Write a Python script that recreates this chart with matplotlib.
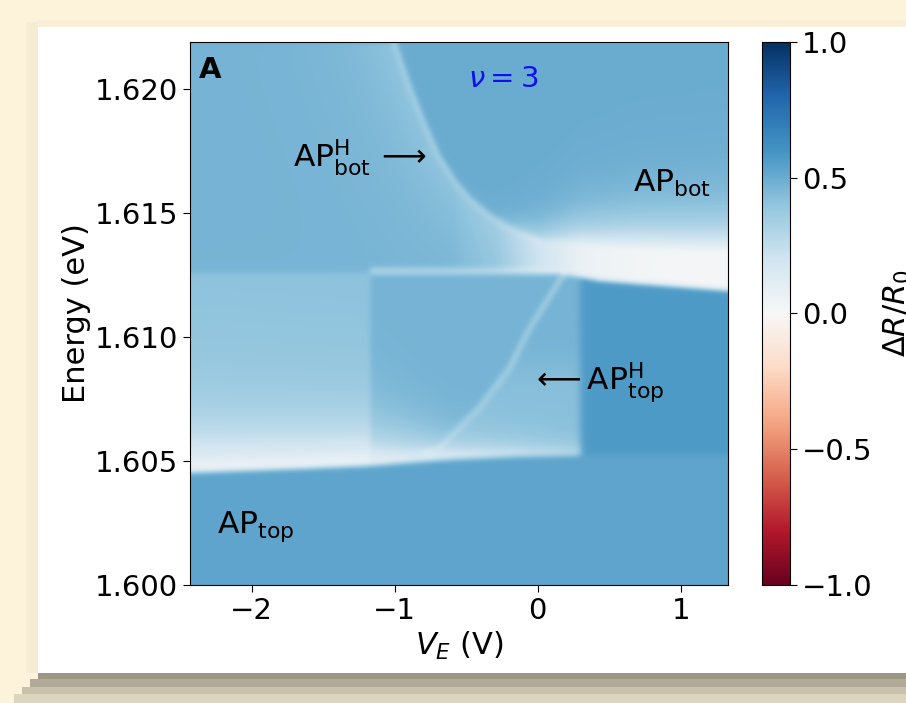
import numpy as np
import matplotlib.pyplot as plt
from matplotlib.patches import Rectangle

# axis ranges
v_lim = (-2.43, 1.33)
e_lim = (1.600, 1.6219)

# AP_bot^H curve / upper edge of the AP_bot band (V, E)
bot_h_v = [-1.00, -0.90, -0.79, -0.69, -0.58, -0.48, -0.34, -0.20, 0.01, 0.29, 0.71, 1.33]
bot_h_e = [1.6219, 1.6202, 1.6186, 1.6173, 1.6163, 1.6156, 1.6149, 1.6144, 1.6139, 1.6137, 1.6135, 1.6134]

# sharp lower edge of the AP_bot band (horizontal line)
bot_edge_v = [-1.17, 0.15, 0.43, 1.33]
bot_edge_e = [1.6126, 1.6126, 1.6123, 1.6119]

# brightness of the AP_bot band vs V
bot_amp_v = [-0.6, -0.3, 0.0, 0.3, 0.7, 1.33]
bot_amp = [0.0, 0.12, 0.50, 0.85, 0.95, 0.97]
bot_halo_w = [0.2, 0.3, 0.6, 0.9, 1.1, 1.2]   # meV

# lower edge of the AP_top band
top_edge_v = [-2.43, -1.66, -1.17, -0.62, -0.13, 0.30]
top_edge_e = [1.60456, 1.60472, 1.60484, 1.60508, 1.60520, 1.60524]
top_amp_v = [-2.43, -1.18, -1.16, -0.6, 0.30]
top_amp = [0.97, 0.95, 0.92, 0.78, 0.45]
top_w = [1.7, 1.5, 1.2, 0.6, 0.35]   # meV

# AP_top^H line
top_h_v = [-0.80, -0.69, -0.41, -0.20, -0.06, 0.07, 0.19]
top_h_e = [1.6053, 1.6055, 1.6071, 1.6087, 1.6103, 1.6115, 1.6126]

# background levels of dR/R0
seam_v = -1.17
end_v = 0.30
lvl_bottom = 0.53
lvl_left_mid = 0.41
lvl_mid = 0.47
lvl_under_h = 0.42
lvl_right_mid = 0.57
lvl_upper_left = 0.47
lvl_upper_right = 0.50

# ---- build map ----
nv, ne = 540, 440
v = np.linspace(v_lim[0], v_lim[1], nv)
e = np.linspace(e_lim[0], e_lim[1], ne)
VV, EE = np.meshgrid(v, e)
px = (VV - v_lim[0]) / (v_lim[1] - v_lim[0]) * 538
py = (EE - e_lim[0]) / (e_lim[1] - e_lim[0]) * 543


def step(x, w):
    return 0.5 * (1 + np.tanh(x / w))


def line_dist(cv, ce):
    idx = np.linspace(0, len(cv) - 1, 160)
    lv = np.interp(idx, np.arange(len(cv)), cv)
    le = np.interp(idx, np.arange(len(ce)), ce)
    lx = (lv - v_lim[0]) / (v_lim[1] - v_lim[0]) * 538
    ly = (le - e_lim[0]) / (e_lim[1] - e_lim[0]) * 543
    d = np.full(VV.shape, 1e9)
    for a, b in zip(lx, ly):
        d = np.minimum(d, np.hypot(px - a, py - b))
    return d


def blur(a, s):
    k = np.exp(-0.5 * (np.arange(-3 * s, 3 * s + 1) / s) ** 2)
    k /= k.sum()
    p = 3 * s
    a = np.pad(a, p, mode='edge')
    a = np.apply_along_axis(lambda r: np.convolve(r, k, mode='same'), 0, a)
    a = np.apply_along_axis(lambda r: np.convolve(r, k, mode='same'), 1, a)
    return a[p:-p, p:-p]


et = np.interp(VV, top_edge_v, top_edge_e)
el = np.interp(VV, bot_edge_v, bot_edge_e)
eb = np.interp(VV, bot_h_v, bot_h_e)
eh = np.interp(VV, top_h_v, top_h_e)
seam = step(VV - seam_v, 0.015)
right = step(VV - end_v, 0.025)

below_top = 1 - step(EE - et, 0.00007)
above_l = step(EE - el, 0.00005)
above_b = step(EE - eb, 0.00008)
mid = (1 - below_top) * (1 - above_l)
under_h = ((1 - step(EE - eh, 0.0003)) * step(VV + 0.75, 0.1)
           * (1 - step(EE - 1.6088, 0.0008)))

lv_mid = (lvl_left_mid * (1 - seam)
          + (lvl_mid * (1 - under_h) + lvl_under_h * under_h) * seam * (1 - right)
          + lvl_right_mid * right)
lv_up = lvl_upper_left * (1 - above_b) + lvl_upper_right * above_b
Z = lvl_bottom * below_top + lv_mid * mid + lv_up * above_l

# AP_top band
dt = np.clip((EE - et) * 1000, 0, None)
amp_t = np.interp(VV, top_amp_v, top_amp) * (1 - right)
wt = np.interp(VV, top_amp_v, top_w)
Z = Z * (1 - amp_t * np.exp(-dt / wt) * (1 - below_top))

# AP_bot band: fill between edge and curve, halo above curve
amp_b = np.interp(VV, bot_amp_v, bot_amp)
wh = np.interp(VV, bot_amp_v, bot_halo_w)
db = np.clip((EE - eb) * 1000, 0, None)
fill = above_l * (1 - above_b) + above_b * np.exp(-db / wh)
Z = Z * (1 - amp_b * fill)

# thin lines, lighter area just under the AP_bot^H curve
d1 = line_dist(bot_h_v[:9], bot_h_e[:9])
Z = Z * (1 - 0.15 * np.exp(-d1 / 45.0) * above_l * (1 - above_b))
Z = Z * (1 - 0.22 * np.exp(-(d1 / 3.0) ** 2))
d2 = line_dist(top_h_v, top_h_e)
Z = Z * (1 - 0.25 * np.exp(-(d2 / 3.0) ** 2))
hl = np.exp(-(((EE - el) * 1000 - 0.06) / 0.12) ** 2) * seam * (1 - step(VV - 0.2, 0.05))
Z = Z * (1 - 0.40 * hl)
Z = blur(Z, 2)

# ---- figure ----
W, H = 906, 703
fig = plt.figure(figsize=(W / 100, H / 100), dpi=100)
fig.patch.set_facecolor('#fdf3da')


def frect(x0, y0, x1, y1, c):
    fig.add_artist(Rectangle((x0 / W, 1 - y1 / H), (x1 - x0) / W, (y1 - y0) / H,
                             transform=fig.transFigure, color=c, lw=0, zorder=-10))


frect(14, 694, W, H, '#ded5be')
frect(22, 687, W, 694, '#c9c1ac')
frect(30, 679, W, 687, '#b2aa98')
frect(38, 673, W, 679, '#9e9786')
frect(26, 22, 38, 673, '#f6ecd3')
frect(38, 20, W, 27, '#f9efd6')
frect(38, 27, W, 673, 'white')

ax = fig.add_axes([190 / W, 1 - 585 / H, 538 / W, 543 / H])
cax = fig.add_axes([762 / W, 1 - 585 / H, 28 / W, 543 / H])

cmap = plt.get_cmap('RdBu').resampled(2048)
im = ax.imshow(Z, extent=[v_lim[0], v_lim[1], e_lim[0], e_lim[1]], origin='lower',
               aspect='auto', cmap=cmap, vmin=-1, vmax=1, interpolation='bilinear')
ax.set_xlim(v_lim)
ax.set_ylim(e_lim)
ax.set_xticks([-2, -1, 0, 1])
ax.set_yticks([1.600, 1.605, 1.610, 1.615, 1.620])
ax.set_yticklabels(['1.600', '1.605', '1.610', '1.615', '1.620'])
ax.tick_params(labelsize=21, length=5)
ax.set_xlabel('$V_E$ (V)', fontsize=22, labelpad=4)
ax.set_ylabel('Energy (eV)', fontsize=22, labelpad=3)

cb = fig.colorbar(im, cax=cax, ticks=[-1.0, -0.5, 0.0, 0.5, 1.0])
cb.ax.tick_params(labelsize=21, length=5)
cb.set_label(r'$\Delta R/R_0$', fontsize=22, labelpad=7)

fs = 22.5
ax.text(0.017, 0.975, 'A', transform=ax.transAxes, fontsize=21, fontweight='bold',
        ha='left', va='top')
ax.text(-0.245, 1.6204, r'$\nu = 3$', color='#1010f0', fontsize=21, ha='center', va='center')
ax.text(-1.713, 1.61685, r'AP$^{\rm H}_{\rm bot}\,\longrightarrow$', fontsize=fs,
        ha='left', va='baseline')
ax.text(0.664, 1.61585, r'AP$_{\rm bot}$', fontsize=fs, ha='left', va='baseline')
ax.text(-0.056, 1.60786, r'$\longleftarrow$AP$^{\rm H}_{\rm top}$', fontsize=fs,
        ha='left', va='baseline')
ax.text(-2.238, 1.60210, r'AP$_{\rm top}$', fontsize=fs, ha='left', va='baseline')

fig.savefig('out.png', dpi=100, facecolor=fig.get_facecolor())
